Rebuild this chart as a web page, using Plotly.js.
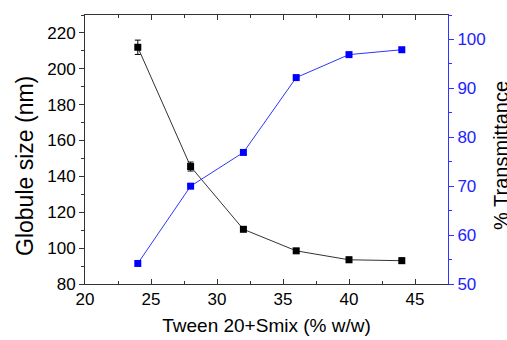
<!DOCTYPE html>
<html>
<head>
<meta charset="utf-8">
<script src="https://cdn.plot.ly/plotly-3.0.1.min.js"></script>
<style>html,body{margin:0;padding:0;background:#fff;}#chart{width:507px;height:340px;}</style>
</head>
<body>
<div id="chart"></div>
<script>
var conc = [24, 28, 32, 36, 40, 44];
var globuleSize = [212, 145.5, 110.5, 98.5, 93.5, 93];
var globuleErr = [4, 2.5, 1, 1, 1.5, 1.5];
var transmittance = [54.2, 70, 76.9, 92.2, 96.9, 97.9];

var font = "Arial, 'Liberation Sans', sans-serif";

var traces = [
  {
    x: conc, y: globuleSize, type: 'scatter', mode: 'lines+markers',
    line: {color: '#333333', width: 1},
    marker: {symbol: 'square', size: 7, color: '#000000'},
    error_y: {type: 'data', array: globuleErr, visible: true, color: '#000000', thickness: 1, width: 3},
    yaxis: 'y', showlegend: false
  },
  {
    x: conc, y: transmittance, type: 'scatter', mode: 'lines+markers',
    line: {color: '#3333ff', width: 1},
    marker: {symbol: 'square', size: 7, color: '#0000ff'},
    yaxis: 'y2', showlegend: false
  }
];

var layout = {
  width: 507, height: 340,
  margin: {l: 85, r: 59, t: 15, b: 56},
  paper_bgcolor: '#ffffff', plot_bgcolor: '#ffffff',
  font: {family: font, size: 16, color: '#000'},
  xaxis: {
    range: [20, 47.5], dtick: 5, tick0: 20,
    showgrid: false, zeroline: false,
    showline: true, linecolor: '#333', linewidth: 1, mirror: 'ticks',
    ticks: 'inside', ticklen: 5, tickcolor: '#333',
    minor: {ticks: 'inside', ticklen: 3, dtick: 2.5, tickcolor: '#333'},
    tickfont: {size: 17, family: font},
    title: {text: 'Tween 20+Smix (% w/w)', font: {size: 19, family: font}, standoff: 10}
  },
  yaxis: {
    range: [80, 230], dtick: 20, tick0: 80,
    showgrid: false, zeroline: false,
    showline: true, linecolor: '#333', linewidth: 1,
    ticks: 'outside', ticklen: 5, tickcolor: '#333',
    minor: {ticks: 'outside', ticklen: 3, dtick: 10, tickcolor: '#333'},
    tickfont: {size: 17, family: font}
  },
  yaxis2: {
    overlaying: 'y', side: 'right', anchor: 'x',
    range: [50, 105], dtick: 10, tick0: 50,
    showgrid: false, zeroline: false,
    showline: true, linecolor: '#3333ff', linewidth: 1,
    ticks: 'outside', ticklen: 5, tickcolor: '#3333ff',
    minor: {ticks: 'outside', ticklen: 3, dtick: 5, tickcolor: '#3333ff'},
    tickfont: {size: 17, family: font, color: '#2222ff'}
  },
  annotations: [
    {text: 'Globule size (nm)', xref: 'paper', yref: 'paper', x: -0.1653, y: 0.4387,
     xanchor: 'center', yanchor: 'middle', textangle: -90, showarrow: false,
     font: {size: 23, family: font, color: '#000'}},
    {text: '% Transmittance', xref: 'paper', yref: 'paper', x: 1.146, y: 0.48,
     xanchor: 'center', yanchor: 'middle', textangle: -90, showarrow: false,
     font: {size: 20, family: font, color: '#000'}}
  ]
};

Plotly.newPlot('chart', traces, layout, {displayModeBar: false, staticPlot: true});
</script>
</body>
</html>
